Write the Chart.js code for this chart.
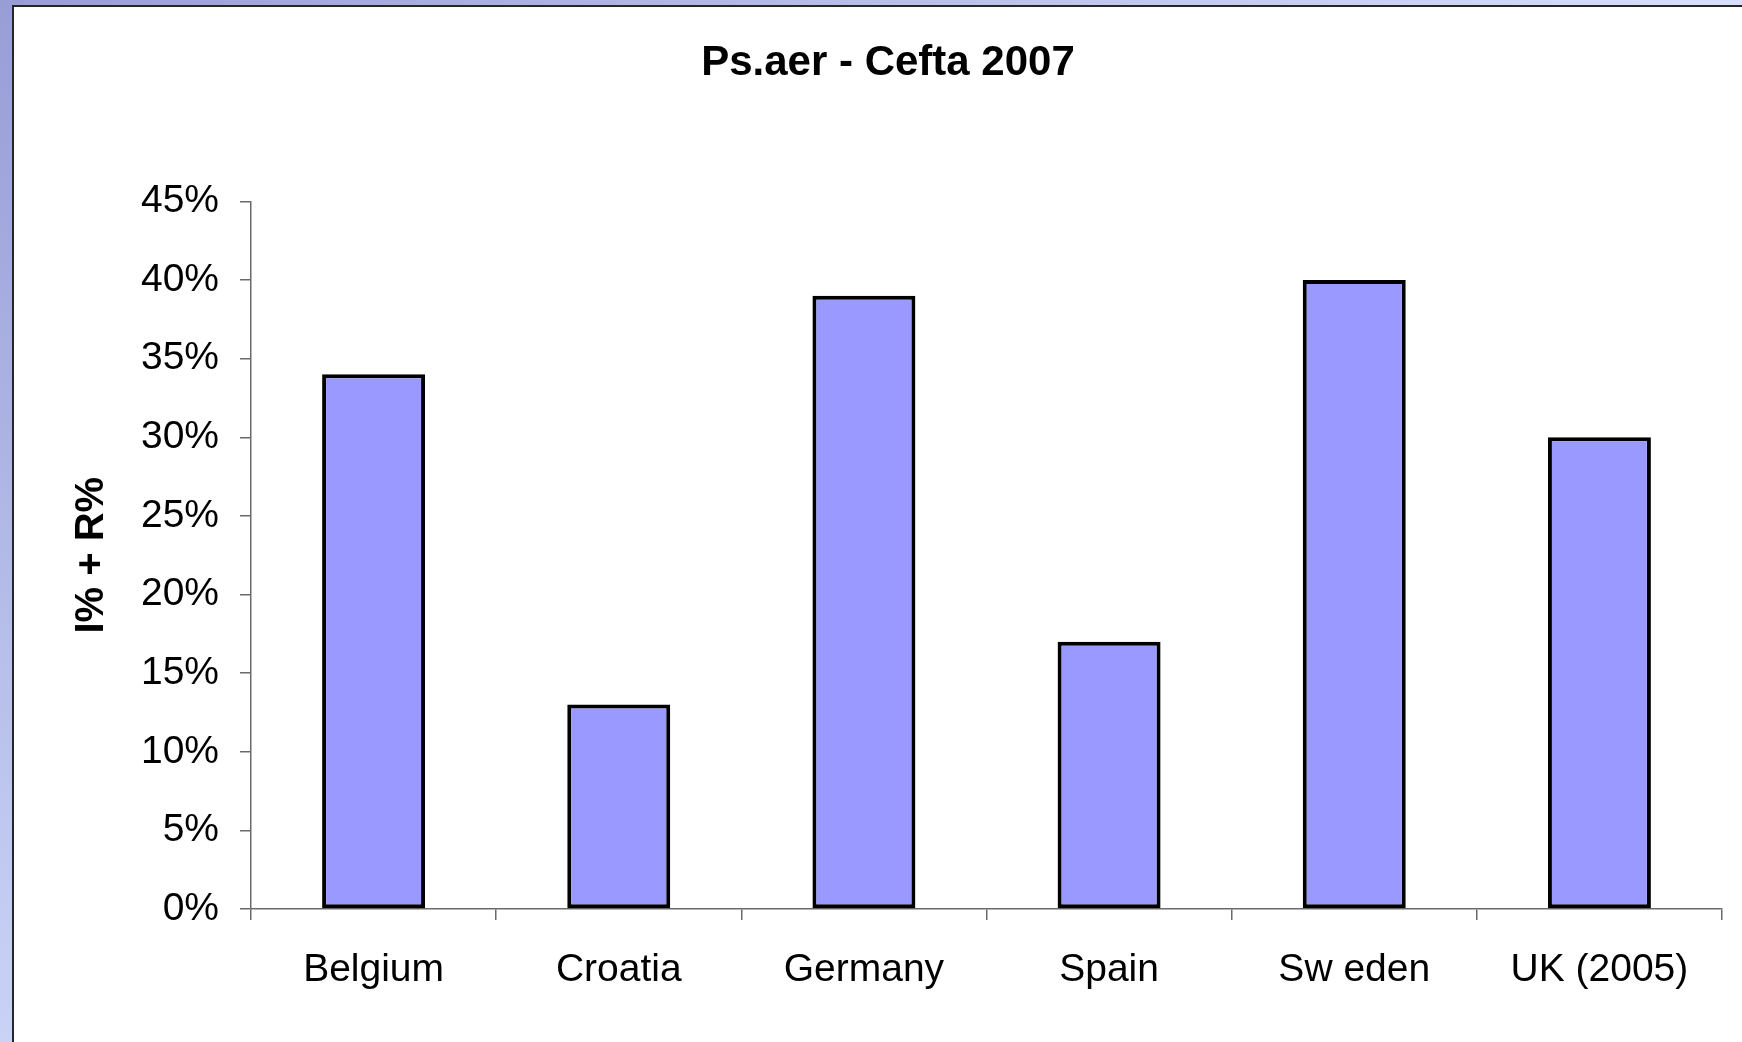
<!DOCTYPE html>
<html>
<head>
<meta charset="utf-8">
<title>Ps.aer - Cefta 2007</title>
<script src="https://cdn.jsdelivr.net/npm/chart.js@4/dist/chart.umd.min.js"></script>
<style>
  html, body { margin: 0; padding: 0; }
  body {
    width: 1742px; height: 1042px; overflow: hidden; position: relative;
    background: linear-gradient(to bottom, #989dd6, #c9d3f6);
  }
  #topstrip {
    position: absolute; left: 0; top: 0; width: 1742px; height: 5px;
    background: linear-gradient(to right, #989dd6, #d6e0fc);
  }
  #frame {
    position: absolute; left: 12px; top: 5px; right: 0; bottom: 0;
    border-left: 2px solid #262626; border-top: 2px solid #262626;
    background: #fff;
  }
</style>
</head>
<body>
<div id="topstrip"></div>
<div id="frame">
  <canvas id="chart" width="1728" height="1035"></canvas>
</div>
<script>
const countries = ["Belgium", "Croatia", "Germany", "Spain", "Sw eden", "UK (2005)"];
const shares = [34, 13, 39, 17, 40, 30];
const yTicks = [0, 5, 10, 15, 20, 25, 30, 35, 40, 45];

const ctx = document.getElementById('chart').getContext('2d');
const axisGrey = '#6a6a6a';
const fontFam = 'Liberation Sans, Arial, sans-serif';

new Chart(ctx, {
  type: 'bar',
  data: {
    labels: countries,
    datasets: [{
      data: shares,
      backgroundColor: '#9999ff',
      borderColor: '#000',
      borderWidth: 4,
      borderSkipped: false,
      barPercentage: 0.42,
      categoryPercentage: 1
    }]
  },
  options: {
    responsive: false,
    animation: false,
    layout: { padding: { top: 0, right: 20, bottom: 0, left: 40 } },
    plugins: {
      legend: { display: false },
      tooltip: { enabled: false },
      title: {
        display: true,
        text: 'Ps.aer - Cefta 2007',
        color: '#000',
        font: { family: fontFam, size: 42, weight: 'bold' },
        padding: { top: 31, bottom: 113 }
      }
    },
    scales: {
      x: {
        grid: { drawOnChartArea: false, drawTicks: true, tickLength: 11, color: axisGrey, lineWidth: 1.5 },
        border: { display: true, color: axisGrey, width: 1.5 },
        ticks: {
          color: '#000', padding: 27, maxRotation: 0, autoSkip: false,
          font: { family: fontFam, size: 39 }
        },
        afterFit: s => { s.height = 133; }
      },
      y: {
        min: 0, max: 45,
        afterBuildTicks: s => { s.ticks = yTicks.map(v => ({ value: v })); },
        grid: { drawOnChartArea: false, drawTicks: true, tickLength: 11, color: axisGrey, lineWidth: 1.5 },
        border: { display: true, color: axisGrey, width: 1.5 },
        ticks: {
          color: '#000', padding: 21,
          font: { family: fontFam, size: 39 },
          callback: v => v + '%'
        },
        title: {
          display: true,
          text: 'I% + R%',
          color: '#000',
          font: { family: fontFam, size: 40, weight: 'bold' },
          padding: { top: 14, bottom: 0 }
        },
        afterFit: s => { s.width = 197; }
      }
    }
  }
});
</script>
</body>
</html>
